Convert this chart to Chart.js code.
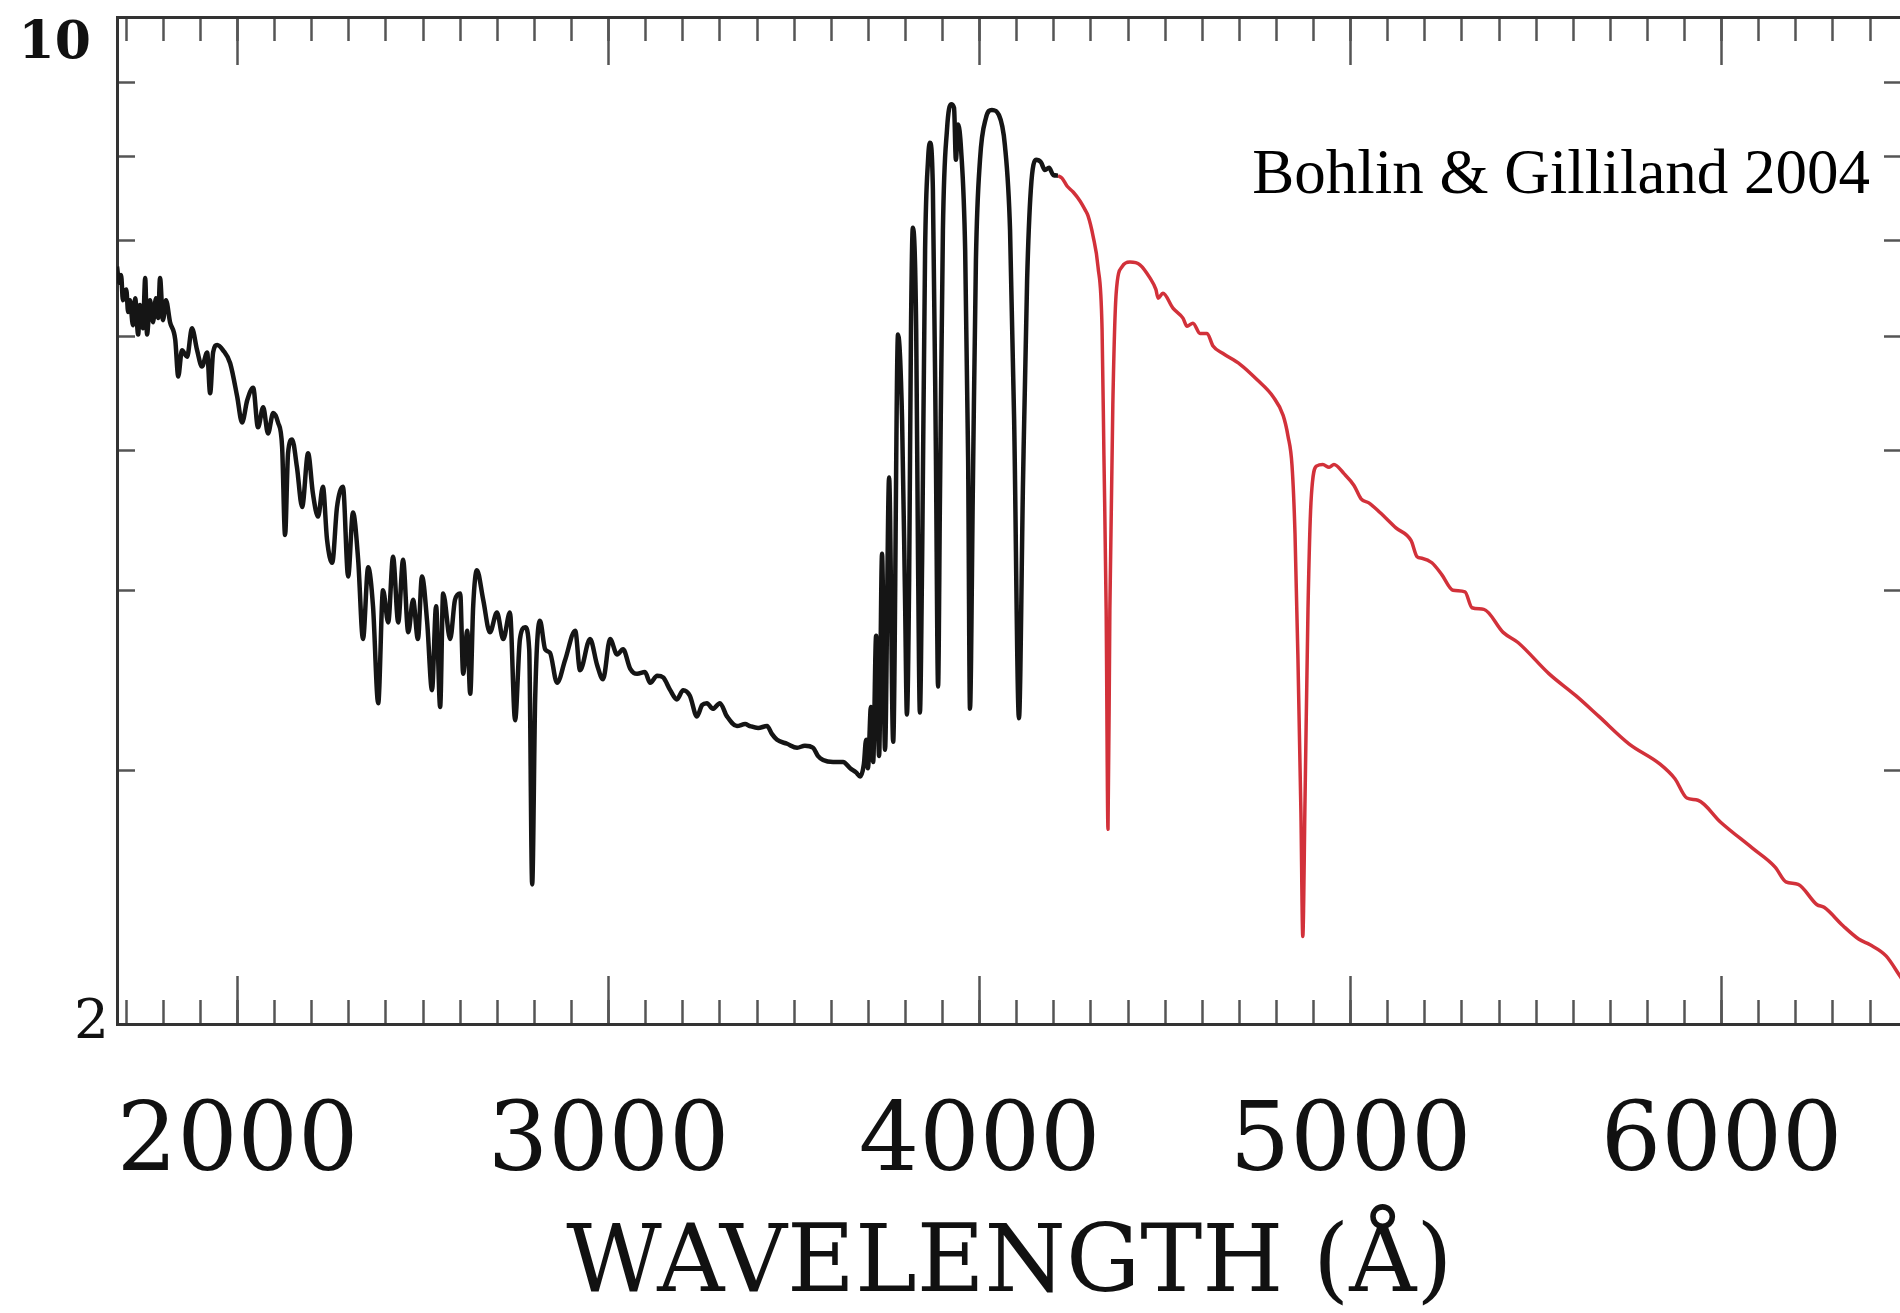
<!DOCTYPE html>
<html>
<head>
<meta charset="utf-8">
<title>Vega spectrum - Bohlin & Gilliland 2004</title>
<script src="https://cdn.jsdelivr.net/npm/chart.js@4.4.1/dist/chart.umd.min.js"></script>
<style>
    html, body { margin: 0; padding: 0; background: #fff; overflow: hidden; }
    #wrap { position: relative; width: 1904px; height: 1313px; }
</style>
</head>
<body>
<div id="wrap"><canvas id="specCanvas"></canvas></div>
<script>
// observed spectrum (black), wavelength in Angstrom and flux
const blackWave = [1675,1681,1686,1691,1700,1705,1710,1718,1724,1732,
    1737,1745,1751,1756,1764,1772,1780,1786,1791,1799,
    1807,1818,1832,1840,1850,1864,1877,1891,1904,1918,
    1926,1934,1945,1961,1980,1999,2012,2026,2042,2055,
    2069,2082,2096,2109,2120,2128,2136,2147,2160,2174,
    2190,2203,2217,2230,2241,2255,2268,2284,2298,2311,
    2325,2338,2352,2365,2379,2392,2406,2419,2433,2446,
    2460,2473,2486,2497,2511,2524,2535,2546,2554,2573,
    2586,2600,2608,2619,2627,2635,2645,2662,2680,2699,
    2716,2734,2748,2761,2775,2786,2794,2802,2815,2829,
    2842,2861,2883,2910,2923,2950,2969,2985,3004,3023,
    3039,3058,3077,3098,3112,3131,3147,3166,3184,3201,
    3219,3238,3252,3265,3281,3300,3319,3346,3368,3381,
    3403,3427,3440,3454,3481,3508,3529,3551,3564,3578,
    3605,3632,3651,3667,3678,
    3688,3694,3699,3707,3713,3721,3729,3737,3745,3756,3767,3780,
    3791,3799,3804,3810,3815,3820,3829,3834,3839,3845,
    3853,3861,3866,3874,3882,3888,3893,3901,3912,3923,
    3931,3936,3942,3950,3961,3969,3974,3982,3990,4001,
    4017,4033,4052,4068,4082,4093,4106,4117,4128,4138,
    4152,4165,4176,4187,4198,4211];
const blackFlux = [6.71,6.54,6.62,6.36,6.47,6.24,6.36,6.11,6.38,6.02,
    6.31,6.08,6.59,6.02,6.36,6.14,6.38,6.18,6.59,6.16,
    6.36,6.14,5.97,5.63,5.87,5.81,6.08,5.87,5.72,5.85,
    5.48,5.85,5.92,5.87,5.75,5.45,5.23,5.42,5.53,5.19,
    5.36,5.14,5.31,5.23,5.03,4.37,4.98,5.09,4.87,4.57,
    4.98,4.67,4.50,4.72,4.34,4.18,4.57,4.72,4.09,4.53,
    4.20,3.70,4.15,3.90,3.34,4.00,3.80,4.22,3.80,4.20,
    3.74,3.94,3.70,4.09,3.80,3.41,3.90,3.32,3.98,3.70,
    3.94,3.98,3.50,3.75,3.39,3.90,4.13,3.94,3.74,3.86,
    3.70,3.86,3.25,3.70,3.77,3.64,2.50,3.36,3.81,3.64,
    3.62,3.45,3.58,3.75,3.52,3.70,3.55,3.47,3.70,3.61,
    3.64,3.53,3.50,3.51,3.45,3.49,3.48,3.41,3.36,3.41,
    3.38,3.27,3.33,3.34,3.31,3.34,3.27,3.22,3.23,3.22,
    3.21,3.22,3.18,3.15,3.13,3.11,3.12,3.11,3.07,3.05,
    3.04,3.04,3.01,2.99,2.97,
    3.03,3.15,3.01,3.32,3.04,3.72,3.07,4.24,3.10,4.79,3.14,6.02,
    5.25,3.94,3.28,4.07,6.07,7.14,6.07,4.20,3.29,4.20,
    6.89,7.96,8.18,7.59,5.01,3.43,4.62,7.11,8.35,8.70,
    8.65,7.96,8.42,8.09,6.89,4.93,3.31,4.77,6.78,7.96,
    8.51,8.62,8.55,8.15,7.11,5.25,3.26,4.77,6.57,7.59,
    7.96,7.93,7.83,7.86,7.77,7.76];

// model continuation (red)
const redWave = [4211,4222,4236,4252,4271,4284,4292,4306,4319,4330,
    4335,4341,4346,4351,4359,4368,4384,4405,4432,4459,
    4475,4481,4494,4521,4548,4559,4575,4594,4613,4629,
    4656,4702,4748,4791,4818,4831,4842,4850,4858,4866,
    4871,4877,4885,4893,4909,4925,4942,4955,4982,5009,
    5028,5049,5079,5122,5163,5179,5192,5219,5246,5276,
    5308,5327,5359,5411,5451,5535,5607,5669,5750,5834,
    5874,5906,5936,5998,6082,6144,6173,6206,6257,6276,
    6327,6370,6400,6443,6480,6490];
const redFlux = [7.76,7.73,7.63,7.56,7.45,7.35,7.28,7.04,6.71,6.07,
    4.96,3.88,2.73,3.88,5.38,6.43,6.71,6.76,6.73,6.59,
    6.47,6.38,6.43,6.28,6.18,6.10,6.13,6.03,6.03,5.91,
    5.84,5.74,5.60,5.45,5.29,5.12,4.88,4.38,3.58,2.80,
    2.30,2.86,3.88,4.60,4.88,4.89,4.87,4.89,4.82,4.73,
    4.63,4.60,4.53,4.42,4.33,4.22,4.21,4.18,4.10,4.00,
    3.99,3.89,3.88,3.74,3.68,3.50,3.38,3.27,3.13,3.03,
    2.96,2.87,2.86,2.76,2.65,2.57,2.51,2.50,2.42,2.41,
    2.34,2.29,2.27,2.23,2.16,2.14];

// axes
const xMin = 1675, xMax = 6486;
const yMin = 2, yMax = 10;
const xMajorTicks = [2000, 3000, 4000, 5000, 6000];
const xMinorStep = 100;
const yLabelTicks = [2, 10];
const yMinorTicks = [3, 4, 5, 6, 7, 8, 9];
const xTitle = "WAVELENGTH (\u00c5)";
const creditText = "Bohlin & Gilliland 2004";
const creditAt = [6400, 7.55];

const serif = "DejaVu Serif";
const tickGray = "#555";
const axisGray = "#333";

function toPoints(xs, ys) {
    return xs.map((x, i) => ({ x: x, y: ys[i] }));
}

function minorXTicks() {
    const out = [];
    for (let v = Math.ceil(xMin / xMinorStep) * xMinorStep; v <= xMax; v += xMinorStep) {
        out.push({ value: v });
    }
    return out;
}

function tickMarks(len) {
    return { drawOnChartArea: false, drawTicks: true, tickLength: len, tickWidth: 2.5, tickColor: tickGray };
}

const creditPlugin = {
    id: "credit",
    afterDatasetsDraw(chart) {
        const ctx = chart.ctx;
        ctx.save();
        ctx.font = '63px "Liberation Serif"';
        ctx.fillStyle = "#000";
        ctx.textAlign = "right";
        ctx.textBaseline = "alphabetic";
        ctx.fillText(creditText, chart.scales.x.getPixelForValue(creditAt[0]), chart.scales.y.getPixelForValue(creditAt[1]));
        ctx.restore();
    }
};

const canvas = document.getElementById("specCanvas");
new Chart(canvas.getContext("2d"), {
    type: "line",
    data: {
        datasets: [{
            label: "observed",
            data: toPoints(blackWave, blackFlux),
            borderColor: "#151515",
            borderWidth: 4.5,
            borderJoinStyle: "round",
            cubicInterpolationMode: "monotone",
            pointRadius: 0,
            xAxisID: "x",
            yAxisID: "y"
        }, {
            label: "model",
            data: toPoints(redWave, redFlux),
            borderColor: "#d2313a",
            borderWidth: 3.5,
            borderJoinStyle: "round",
            cubicInterpolationMode: "monotone",
            pointRadius: 0,
            xAxisID: "x",
            yAxisID: "y"
        }]
    },
    options: {
        responsive: true,
        maintainAspectRatio: false,
        animation: false,
        devicePixelRatio: 1,
        layout: { padding: { top: 17, right: 2, left: 0, bottom: 0 }, autoPadding: false },
        plugins: {
            legend: { display: false },
            tooltip: { enabled: false },
            title: { display: false }
        },
        scales: {
            x: {
                type: "linear",
                position: "bottom",
                weight: 1,
                min: xMin,
                max: xMax,
                afterBuildTicks: s => { s.ticks = xMajorTicks.map(v => ({ value: v })); },
                afterFit: s => { s.height = 289; s.paddingLeft = 0; s.paddingRight = 0; },
                ticks: {
                    autoSkip: false,
                    maxRotation: 0,
                    padding: 112,
                    color: "#111",
                    font: { family: serif, size: 95 },
                    callback: v => String(v)
                },
                grid: tickMarks(-48),
                border: { display: true, color: axisGray, width: 3 },
                title: {
                    display: true,
                    text: xTitle,
                    color: "#111",
                    font: { family: serif, size: 93, lineHeight: 1 },
                    padding: { top: 0, bottom: 0 }
                }
            },
            xMinor: {
                type: "linear",
                position: "bottom",
                weight: 0,
                min: xMin,
                max: xMax,
                afterBuildTicks: s => { s.ticks = minorXTicks(); },
                afterFit: s => { s.height = 0; s.paddingLeft = 0; s.paddingRight = 0; },
                ticks: { display: false, autoSkip: false },
                grid: tickMarks(-24),
                border: { display: false }
            },
            xTop: {
                type: "linear",
                position: "top",
                weight: 1,
                min: xMin,
                max: xMax,
                afterBuildTicks: s => { s.ticks = xMajorTicks.map(v => ({ value: v })); },
                afterFit: s => { s.height = 0; s.paddingLeft = 0; s.paddingRight = 0; },
                ticks: { display: false, autoSkip: false },
                grid: tickMarks(-48),
                border: { display: true, color: axisGray, width: 3 }
            },
            xTopMinor: {
                type: "linear",
                position: "top",
                weight: 0,
                min: xMin,
                max: xMax,
                afterBuildTicks: s => { s.ticks = minorXTicks(); },
                afterFit: s => { s.height = 0; s.paddingLeft = 0; s.paddingRight = 0; },
                ticks: { display: false, autoSkip: false },
                grid: tickMarks(-24),
                border: { display: false }
            },
            y: {
                type: "logarithmic",
                position: "left",
                min: yMin,
                max: yMax,
                afterBuildTicks: s => {
                    s.ticks = yLabelTicks.concat(yMinorTicks).sort((a, b) => a - b).map(v => ({ value: v }));
                },
                afterFit: s => { s.width = 117; s.paddingTop = 0; s.paddingBottom = 0; },
                ticks: {
                    autoSkip: false,
                    padding: 26,
                    color: "#111",
                    font: ctx => {
                        const v = ctx.tick ? ctx.tick.value : 0;
                        return v === 10
                            ? { family: serif, size: 52, weight: "bold", lineHeight: "54px" }
                            : { family: serif, size: 55, weight: "normal", lineHeight: "54px" };
                    },
                    callback: v => (v === 10 ? ["", "10 "] : (v === 2 ? "2" : ""))
                },
                grid: {
                    drawOnChartArea: false,
                    drawTicks: true,
                    tickLength: -18,
                    tickWidth: 2.5,
                    tickColor: ctx => (ctx.tick && yLabelTicks.includes(ctx.tick.value) ? "rgba(0,0,0,0)" : tickGray)
                },
                border: { display: true, color: axisGray, width: 3 }
            },
            yRight: {
                type: "logarithmic",
                position: "right",
                min: yMin,
                max: yMax,
                afterBuildTicks: s => { s.ticks = yMinorTicks.map(v => ({ value: v })); },
                afterFit: s => { s.width = 0; s.paddingTop = 0; s.paddingBottom = 0; },
                ticks: { display: false, autoSkip: false },
                grid: tickMarks(-18),
                border: { display: true, color: axisGray, width: 3 }
            }
        }
    },
    plugins: [creditPlugin]
});
</script>
</body>
</html>
